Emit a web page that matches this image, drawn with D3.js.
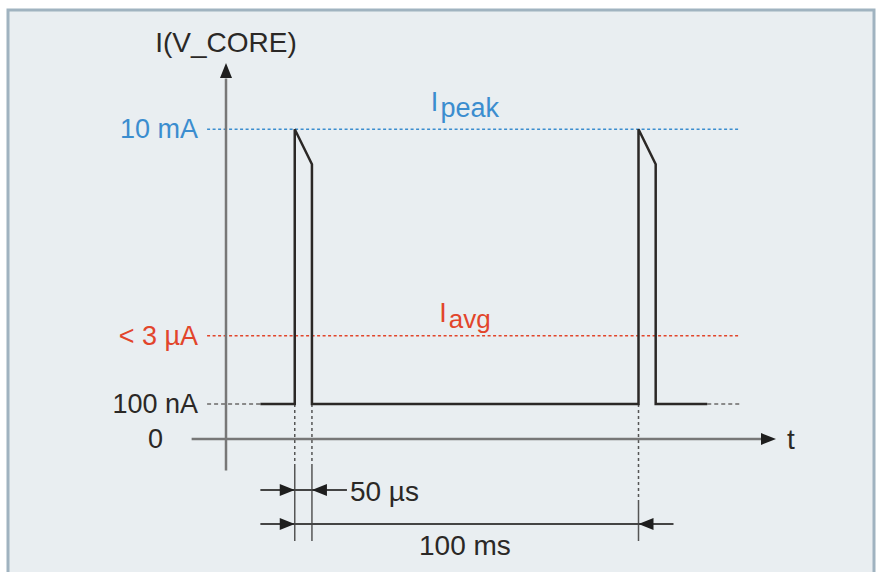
<!DOCTYPE html>
<html>
<head>
<meta charset="utf-8">
<script src="https://cdn.jsdelivr.net/npm/d3@7"></script>
<style>
  body { margin: 0; background: #fff; }
  svg { display: block; font-family: "Liberation Sans", Arial, sans-serif; }
</style>
</head>
<body>
<script>
// Schematic current levels (arbitrary display units, not to scale)
var levelLabels = ["0", "100 nA", "< 3 \u00b5A", "10 mA"];
var levelValues = [0, 1, 2.95, 8.85];

// Pulse timing in schematic time units (period = 100 ms)
var pulseStarts = [0, 100];
var pulseWidth = 5;
var peakLevel = 8.85;
var droopLevel = 7.85;
var baseLevel = 1;
var traceStart = -10;
var traceEnd = 120;

// Dimension annotations
var dims = [
    { from: 0, to: 5, label: "50 \u00b5s" },
    { from: 0, to: 100, label: "100 ms" }
];

var W = 876, H = 572;

var svg = d3.select("body").append("svg")
    .attr("width", W)
    .attr("height", H);

// panel
svg.append("rect")
    .attr("x", 8).attr("y", 10)
    .attr("width", 866).attr("height", H)
    .attr("fill", "#e9eef1")
    .attr("stroke", "#a0b3c0")
    .attr("stroke-width", 3);

// scales
var x = d3.scaleLinear().domain([-20, 140]).range([226, 776]);
var y = d3.scaleLinear().domain([0, 10]).range([439, 89]);

var dark = "#2b2826";
var axisGray = "#777";
var blue = "#3b8dcf";
var red = "#e2452b";
var levelColors = ["#999", "#999", red, blue];

// horizontal dotted reference lines
[1, 2, 3].forEach(function(i) {
    var lv = levelValues[i];
    if (i == 1) {
        svg.append("line")
            .attr("x1", x(-25.5)).attr("x2", x(traceStart))
            .attr("y1", y(lv)).attr("y2", y(lv))
            .attr("stroke", "#8a8a8a").attr("stroke-width", 2)
            .attr("stroke-dasharray", "4,3");
        svg.append("line")
            .attr("x1", x(traceEnd)).attr("x2", x(129.5))
            .attr("y1", y(lv)).attr("y2", y(lv))
            .attr("stroke", "#8a8a8a").attr("stroke-width", 2)
            .attr("stroke-dasharray", "4,3");
    } else {
        svg.append("line")
            .attr("x1", x(-25.5)).attr("x2", x(129.5))
            .attr("y1", y(lv)).attr("y2", y(lv))
            .attr("stroke", levelColors[i]).attr("stroke-width", 1.5)
            .attr("stroke-dasharray", "3,2.5");
    }
});

// y axis labels
var yAxis = d3.axisLeft(y)
    .tickValues(levelValues)
    .tickFormat(function(d, i) { return levelLabels[i]; })
    .tickSize(0)
    .tickPadding(28);

var gy = svg.append("g")
    .attr("transform", "translate(" + x(-20) + ",0)")
    .call(yAxis);
gy.select(".domain").remove();
gy.selectAll("text")
    .attr("font-size", 27)
    .attr("font-family", "Liberation Sans, Arial, sans-serif")
    .attr("fill", function(d, i) { return i >= 2 ? levelColors[i] : dark; })
    .attr("x", function(d, i) { return i == 0 ? -63 : -28; });

// extension lines below pulses
pulseStarts.forEach(function(p, k) {
    var xs = k == 0 ? [p, p + pulseWidth] : [p];
    xs.forEach(function(t) {
        var dotEnd = k == 0 ? 466 : 503;
        svg.append("line")
            .attr("x1", x(t)).attr("x2", x(t))
            .attr("y1", y(baseLevel)).attr("y2", dotEnd)
            .attr("stroke", "#555").attr("stroke-width", 1.5)
            .attr("stroke-dasharray", "3,3");
        svg.append("line")
            .attr("x1", x(t)).attr("x2", x(t))
            .attr("y1", dotEnd).attr("y2", 541)
            .attr("stroke", "#555").attr("stroke-width", 1.5);
    });
});

// axes lines
svg.append("line")
    .attr("x1", x(-20)).attr("x2", x(-20))
    .attr("y1", y(-0.9)).attr("y2", y(10.3))
    .attr("stroke", axisGray).attr("stroke-width", 2.5);
svg.append("path")
    .attr("d", "M" + x(-20) + "," + y(10.74) + " l-6,15 l12,0 z")
    .attr("fill", "#1e1e1e");

svg.append("line")
    .attr("x1", x(-30)).attr("x2", x(137))
    .attr("y1", y(0)).attr("y2", y(0))
    .attr("stroke", axisGray).attr("stroke-width", 2.5);
svg.append("path")
    .attr("d", "M" + x(140) + "," + y(0) + " l-15,-6 l0,12 z")
    .attr("fill", "#1e1e1e");
svg.append("text")
    .attr("x", 787).attr("y", 449)
    .attr("font-size", 28).attr("fill", dark)
    .text("t");

// waveform
var pts = [[traceStart, baseLevel]];
pulseStarts.forEach(function(p) {
    pts.push([p, baseLevel]);
    pts.push([p, peakLevel]);
    pts.push([p + pulseWidth, droopLevel]);
    pts.push([p + pulseWidth, baseLevel]);
});
pts.push([traceEnd, baseLevel]);

var line = d3.line()
    .x(function(d) { return x(d[0]); })
    .y(function(d) { return y(d[1]); });

svg.append("path")
    .datum(pts)
    .attr("d", line)
    .attr("fill", "none")
    .attr("stroke", dark)
    .attr("stroke-width", 2.5)
    .attr("stroke-linejoin", "miter");

// axis title
svg.append("text")
    .attr("x", x(-20)).attr("y", 52)
    .attr("text-anchor", "middle")
    .attr("font-size", 28).attr("fill", dark)
    .text("I(V_CORE)");

// Ipeak / Iavg labels
var ip = svg.append("text")
    .attr("x", x(49.5)).attr("y", y(peakLevel) - 18)
    .attr("text-anchor", "middle")
    .attr("fill", blue).attr("font-size", 27);
ip.append("tspan").text("I");
ip.append("tspan").attr("dy", 6).attr("dx", 2).text("peak");

var ia = svg.append("text")
    .attr("x", x(49.5)).attr("y", y(levelValues[2]) - 14)
    .attr("text-anchor", "middle")
    .attr("fill", red).attr("font-size", 27);
ia.append("tspan").text("I");
ia.append("tspan").attr("dy", 6).attr("dx", 2).attr("font-size", 26).text("avg");

// dimension arrows
function arrowHead(px, py, dir) {
    svg.append("path")
        .attr("d", "M" + px + "," + py + " l" + (-15 * dir) + ",-6 l0,12 z")
        .attr("fill", "#1e1e1e");
}

var rowY = [490, 524];

// 50 us row
svg.append("line")
    .attr("x1", x(-10)).attr("x2", x(dims[0].to) + 35)
    .attr("y1", rowY[0]).attr("y2", rowY[0])
    .attr("stroke", "#444").attr("stroke-width", 2);
arrowHead(x(dims[0].from), rowY[0], 1);
arrowHead(x(dims[0].to), rowY[0], -1);
svg.append("text")
    .attr("x", x(dims[0].to) + 38).attr("y", rowY[0] + 11)
    .attr("font-size", 28).attr("fill", dark)
    .text(dims[0].label);

// 100 ms row
svg.append("line")
    .attr("x1", x(-10)).attr("x2", x(dims[1].to) + 35)
    .attr("y1", rowY[1]).attr("y2", rowY[1])
    .attr("stroke", "#444").attr("stroke-width", 2);
arrowHead(x(dims[1].from), rowY[1], 1);
arrowHead(x(dims[1].to), rowY[1], -1);
svg.append("text")
    .attr("x", x(49.5)).attr("y", 555)
    .attr("text-anchor", "middle")
    .attr("font-size", 28).attr("fill", dark)
    .text(dims[1].label);
</script>
</body>
</html>
